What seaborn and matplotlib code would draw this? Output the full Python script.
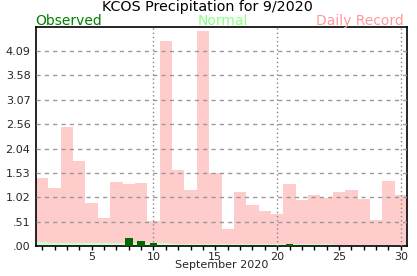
import matplotlib
matplotlib.use("Agg")
import matplotlib.pyplot as plt
import seaborn as sns
import numpy as np
import pandas as pd

days = list(range(1, 31))
record = [1.42, 1.21, 2.50, 1.79, 0.91, 0.58, 1.35, 1.31, 1.33, 0.52,
          4.30, 1.60, 1.17, 4.51, 1.54, 0.35, 1.14, 0.87, 0.73, 0.68,
          1.31, 0.96, 1.08, 1.01, 1.14, 1.18, 0.98, 0.54, 1.37, 1.08]
normal = [0.08, 0.06, 0.06, 0.06, 0.06, 0.06, 0.06, 0.06, 0.06, 0.06,
          0.06, 0.05, 0.05, 0.05, 0.05, 0.05, 0.05, 0.05, 0.05, 0.05,
          0.04, 0.04, 0.04, 0.04, 0.03, 0.02, 0.03, 0.02, 0.02, 0.02]
observed = [0, 0, 0, 0, 0, 0, 0, 0.17, 0.10, 0.06,
            0, 0, 0, 0, 0, 0, 0, 0, 0, 0,
            0.04, 0, 0, 0, 0, 0, 0, 0, 0, 0]
ymax = 4.6
x_label = "September 2020"
title = "KCOS Precipitation for 9/2020"

df = pd.DataFrame({"day": days, "record": record, "normal": normal, "observed": observed})

sns.set_style("white")
plt.rcParams['font.family'] = ['DejaVu Sans']

fig = plt.figure(figsize=(4.17, 2.76), dpi=100)
ax = fig.add_axes([36/417, 30/276, 371/417, 219.3/276])

sns.barplot(data=df, x="day", y="record", native_scale=True, width=1.0,
            color="#ffcccc", saturation=1, ax=ax, zorder=1, linewidth=0)
sns.barplot(data=df, x="day", y="normal", native_scale=True, width=1.0,
            color="#ccffcc", saturation=1, ax=ax, zorder=2, linewidth=0)
sns.barplot(data=df, x="day", y="observed", native_scale=True, width=0.62,
            color="#006600", saturation=1, ax=ax, zorder=4, linewidth=0)

ax.set_xlim(0.5, 30.5)
ax.set_ylim(0, ymax)

yt = [ymax / 9 * i for i in range(9)]
ax.set_yticks(yt)
ax.set_yticklabels([("%.2f" % v).lstrip("0") if v > 0 else ".00" for v in yt], fontsize=8)
for v in yt[1:]:
    ax.axhline(v, color="#999999", linestyle=(0, (3, 3)), linewidth=1, zorder=3)
for d in [10, 20, 30]:
    ax.axvline(d, color="#888888", linestyle=(0, (1, 2)), linewidth=1, zorder=3)

ax.set_xticks(days)
ax.set_xticklabels([str(d) if d % 5 == 0 else "" for d in days], fontsize=8)
ax.tick_params(axis="x", length=3, width=1, color="black", pad=1, direction="out", bottom=True)
ax.tick_params(axis="y", length=0, pad=4)
ax.set_xlabel(x_label, fontsize=8, labelpad=-1)
ax.set_ylabel("")

for s in ax.spines.values():
    s.set_color("black")
    s.set_linewidth(1.2)

fig.text(207.5/417, 1 - 11.5/276, title, ha="center", va="baseline", fontsize=10.3, color="black")
fig.text(35/417, 1 - 24.5/276, "Observed", ha="left", va="baseline", fontsize=10, color="#008000")
fig.text(223/417, 1 - 24.5/276, "Normal", ha="center", va="baseline", fontsize=10, color="#88ff88")
fig.text(404/417, 1 - 24.5/276, "Daily Record", ha="right", va="baseline", fontsize=10, color="#ff9999")

fig.savefig("out.png", dpi=100)
